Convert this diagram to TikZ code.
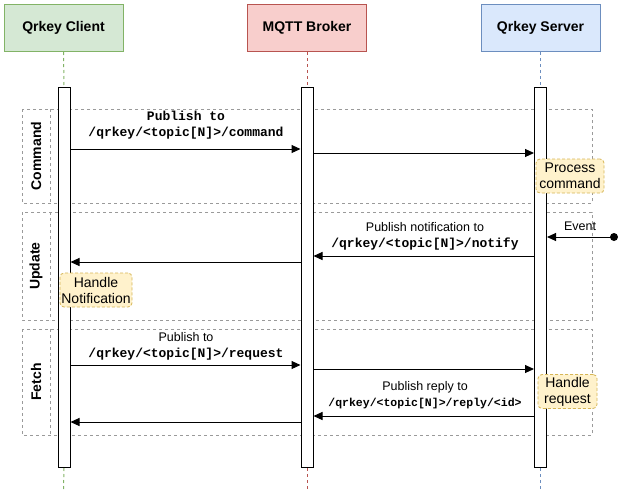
\documentclass[tikz,border=0pt]{standalone}
\usepackage{fontspec}
\setmainfont{Liberation Sans}
\setmonofont{Liberation Mono}
\usepackage{tikz}
\usetikzlibrary{
  arrows.meta,
  positioning
}
\definecolor{clientfill}{HTML}{D5E8D4}
\definecolor{clientline}{HTML}{82B366}
\definecolor{brokerfill}{HTML}{F8CECC}
\definecolor{brokerline}{HTML}{B85450}
\definecolor{serverfill}{HTML}{DAE8FC}
\definecolor{serverline}{HTML}{6C8EBF}
\definecolor{notefill}{HTML}{FFF2CC}
\definecolor{noteline}{HTML}{D6B656}
\definecolor{framegray}{HTML}{9A9A9A}
\newcommand{\pathtxt}[1]{{\ttfamily\bfseries\fontsize{13}{16}\selectfont #1}}

\begin{document}
\begin{tikzpicture}[x=1pt,y=-1pt,
  actor/.style={draw, line width=1pt, minimum width=119pt, minimum height=47pt,
    inner sep=0pt, font=\fontsize{14}{16}\selectfont\bfseries},
  lifebar/.style={draw=black, fill=white, line width=1pt, minimum width=12pt,
    minimum height=380pt, inner sep=0pt},
  lifeline/.style={line width=1pt, dash pattern=on 3pt off 3pt},
  msg/.style={draw=black, line width=1pt, -{Triangle[length=9pt,width=8pt]}},
  groupbox/.style={draw=framegray, line width=0.8pt, dash pattern=on 3pt off 3pt},
  grouplabel/.style={rotate=90, inner sep=0pt, font=\fontsize{14}{16}\selectfont\bfseries},
  note/.style={draw=noteline, fill=notefill, line width=0.8pt, dash pattern=on 3pt off 2pt,
    rounded corners=4pt, align=center, inner sep=0pt, minimum height=34pt,
    font=\fontsize{14}{16}\selectfont},
  msglabel/.style={align=center, inner sep=0pt, font=\fontsize{12.5}{16}\selectfont}
]
\useasboundingbox (0,0) rectangle (618,493);

% participants
\node[actor, fill=clientfill, draw=clientline] (client) at (63.5,28) {Qrkey Client};
\node[actor, fill=brokerfill, draw=brokerline] (broker) at (307,28) {MQTT Broker};
\node[actor, fill=serverfill, draw=serverline] (server) at (540.5,28) {Qrkey Server};

\coordinate (clientend) at (63.5,491);
\coordinate (brokerend) at (307,491);
\coordinate (serverend) at (540.5,491);

% group frames
\draw[groupbox] (22,109) rectangle (592,203);
\draw[groupbox] (50,109) -- (50,203);
\node[grouplabel] (cmdgroup) at (36,156) {Command};
\draw[groupbox] (22,212) rectangle (592,320);
\draw[groupbox] (50,212) -- (50,320);
\node[grouplabel] (updgroup) at (36,266) {Update};
\draw[groupbox] (22,329) rectangle (592,435);
\draw[groupbox] (50,329) -- (50,435);
\node[grouplabel] (fetchgroup) at (36,382) {Fetch};

% lifelines
\node[lifebar] (clientbar) at (64,277.5) {};
\node[lifebar] (brokerbar) at (307,277.5) {};
\node[lifebar] (serverbar) at (540.5,277.5) {};
\draw[lifeline, draw=clientline] (client.south) -- (clientbar.north);
\draw[lifeline, draw=clientline] (clientbar.south) -- (clientend);
\draw[lifeline, draw=brokerline] (broker.south) -- (brokerbar.north);
\draw[lifeline, draw=brokerline] (brokerbar.south) -- (brokerend);
\draw[lifeline, draw=serverline] (server.south) -- (serverbar.north);
\draw[lifeline, draw=serverline] (serverbar.south) -- (serverend);

% command
\node[msglabel] (cmdlabel) at (186,125) {\pathtxt{Publish to}\\\pathtxt{/qrkey/<topic[N]>/command}};
\draw[msg] (clientbar.east |- 0,149) -- (brokerbar.west |- 0,149);
\draw[msg] (brokerbar.east |- 0,153) -- (serverbar.west |- 0,153);
\node[note, minimum width=68pt] (process) at (570,176) {Process\\command};

% update
\node[msglabel] (eventlabel) at (580,226) {Event};
\coordinate (event) at (614,237);
\fill (event) circle[radius=4pt];
\draw[msg] (event) -- (serverbar.east |- event);
\node[msglabel] (notifylabel) at (425,236) {Publish notification to\\\pathtxt{/qrkey/<topic[N]>/notify}};
\draw[msg] (serverbar.west |- 0,256) -- (brokerbar.east |- 0,256);
\draw[msg] (brokerbar.west |- 0,262) -- (clientbar.east |- 0,262);
\node[note, minimum width=72pt] (handlenote) at (96,290) {Handle\\Notification};

% fetch
\node[msglabel] (reqlabel) at (186,346) {Publish to\\\pathtxt{/qrkey/<topic[N]>/request}};
\draw[msg] (clientbar.east |- 0,365) -- (brokerbar.west |- 0,365);
\draw[msg] (brokerbar.east |- 0,369) -- (serverbar.west |- 0,369);
\node[msglabel] (replylabel) at (425,395) {Publish reply to\\{\ttfamily\bfseries\fontsize{11.5}{16}\selectfont /qrkey/<topic[N]>/reply/<id>}};
\draw[msg] (serverbar.west |- 0,416) -- (brokerbar.east |- 0,416);
\draw[msg] (brokerbar.west |- 0,422) -- (clientbar.east |- 0,422);
\node[note, minimum width=59pt] (handlereq) at (567.5,391.5) {Handle\\request};
\end{tikzpicture}
\end{document}
